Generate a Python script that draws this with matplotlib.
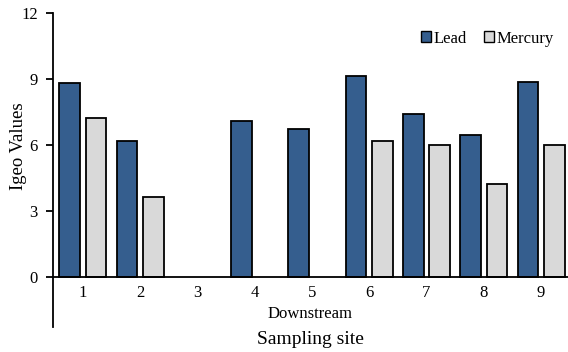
import matplotlib
matplotlib.use("Agg")
import matplotlib.pyplot as plt
import numpy as np

sites = ["1", "2", "3", "4", "5", "6", "7", "8", "9"]
lead = [8.8, 6.2, 0, 7.1, 6.75, 9.15, 7.4, 6.45, 8.85]
mercury = [7.23, 3.65, 0, 0, 0, 6.2, 5.98, 4.24, 6.01]

plt.rcParams['font.family'] = ['Liberation Serif', 'DejaVu Serif']

fig = plt.figure(figsize=(5.68, 3.52), dpi=100)
ax = fig.add_axes([53/568, 25/352, 1 - 53/568, 314/352])

x = np.arange(1, len(sites) + 1)
w = 0.36
off = 0.23
lead_c = "#355E8E"
merc_c = "#D9D9D9"

lv = np.array(lead, dtype=float)
mv = np.array(mercury, dtype=float)
lm = lv > 0
mm = mv > 0
ax.bar(x[lm] - off, lv[lm], w, color=lead_c, edgecolor="black", linewidth=1.3, label="Lead", zorder=2)
ax.bar(x[mm] + off, mv[mm], w, color=merc_c, edgecolor="black", linewidth=1.3, label="Mercury", zorder=2)

ax.set_xlim(0.48, 9.47)
ax.set_ylim(-2.27, 12)
ax.set_yticks([0, 3, 6, 9, 12])
ax.set_xticks(x)
ax.set_xticklabels(sites)

for s in ["top", "right"]:
    ax.spines[s].set_visible(False)
ax.spines["bottom"].set_position(("data", 0))
ax.spines["bottom"].set_linewidth(1.3)
ax.spines["left"].set_linewidth(1.3)
ax.spines["bottom"].set_zorder(3)

ax.tick_params(axis="x", length=0, pad=6, labelsize=12)
ax.tick_params(axis="y", length=5, width=1.3, direction="out", labelsize=12, pad=6)

ax.set_xlabel("Downstream", fontsize=12, labelpad=3)
ax.set_ylabel("Igeo Values", fontsize=13.5)
ax.yaxis.set_label_coords(-0.05, 0.576)

fig.text((53 + 568) / 2 / 568, 1 - 340/352, "Sampling site", ha="center", va="center", fontsize=14)

leg = ax.legend(loc="upper right", bbox_to_anchor=(0.985, 0.965), ncol=2, frameon=False,
                fontsize=12, handlelength=0.6, handleheight=0.6, handletextpad=0.15,
                columnspacing=1.0, borderaxespad=0)
for h in leg.legend_handles:
    h.set_linewidth(1.0)

fig.savefig("out.png", dpi=100)
